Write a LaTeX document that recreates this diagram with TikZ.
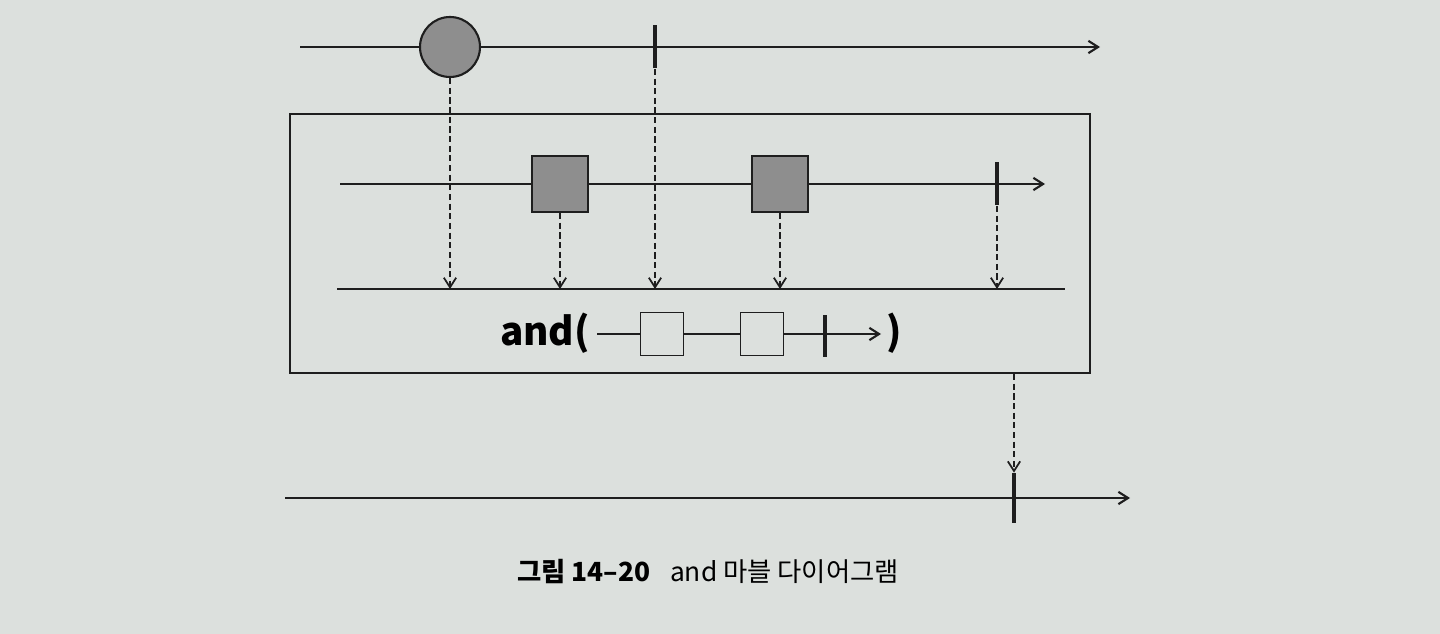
\documentclass[tikz,border=0pt]{standalone}
\usepackage{fontspec}
\setmainfont{Noto Sans CJK KR}
\usetikzlibrary{arrows.meta,positioning}

\definecolor{paper}{RGB}{220,224,221}
\definecolor{ink}{RGB}{30,30,30}
\definecolor{marble}{RGB}{142,142,142}

\tikzset{
  timeline/.style={draw=ink, line width=1.2pt},
  flow/.style={timeline, -{Straight Barb[length=5.5pt,width=7pt]}},
  emitted/.style={draw=ink, line width=1pt, dash pattern=on 3.5pt off 2pt,
    -{Straight Barb[length=5.5pt,width=7pt]}},
  ballmarble/.style={circle, draw=ink, line width=1.2pt, fill=marble,
    minimum size=1.2cm, inner sep=0pt},
  boxmarble/.style={rectangle, draw=ink, line width=1.2pt, fill=marble,
    minimum size=1.12cm, inner sep=0pt},
  emptymarble/.style={rectangle, draw=ink, line width=1.1pt, fill=paper,
    minimum size=0.86cm, inner sep=0pt},
  tickmark/.style={rectangle, fill=ink, inner sep=0pt, minimum width=2.2pt,
    minimum height=#1},
  tickmark/.default=0.86cm
}

\begin{document}
\begin{tikzpicture}[x=0.02cm, y=-0.02cm]
\fill[paper] (0,0) rectangle (1440,634);
\useasboundingbox (0,0) rectangle (1440,634);

% source stream
\node[ballmarble] (ball) at (450,47) {};
\node[tickmark] (srctick) at (655,47) {};
\coordinate (srcstart) at (300,47);
\coordinate (srcend) at (1100,47);
\draw[timeline] (srcstart) -- (ball.west);
\draw[flow] (ball.east) -- (srcend);

% operator box
\node[draw=ink, line width=1.2pt, minimum width=16cm, minimum height=5.18cm,
  inner sep=0pt] (frame) at (690,243.5) {};

% other stream inside
\node[boxmarble] (sqA) at (560,184) {};
\node[boxmarble] (sqB) at (780,184) {};
\node[tickmark] (intick) at (997,184) {};
\coordinate (instart) at (340,184);
\coordinate (inend) at (1045,184);
\draw[timeline] (instart) -- (sqA.west);
\draw[timeline] (sqA.east) -- (sqB.west);
\draw[flow] (sqB.east) -- (inend);

% merge line
\coordinate (mergestart) at (337,289);
\coordinate (mergeend) at (1065,289);
\draw[timeline] (mergestart) -- (mergeend);

\draw[emitted] (ball.south) -- (ball.south |- mergestart);
\draw[emitted] (sqA.south) -- (sqA.south |- mergestart);
\draw[emitted] (srctick.south) -- (srctick.south |- mergestart);
\draw[emitted] (sqB.south) -- (sqB.south |- mergestart);
\draw[emitted] (intick.south) -- (intick.south |- mergestart);

% and( ... )
\node[font=\fontsize{22}{26}\selectfont\bfseries, inner sep=0pt] (andlabel)
  at (545,333) {and(};
\node[emptymarble] (miniA) at (662,334) {};
\node[emptymarble] (miniB) at (762,334) {};
\node[tickmark=0.84cm] (minitick) at (825,336) {};
\coordinate (ministart) at (597,334);
\coordinate (miniend) at (881,334);
\draw[timeline] (ministart) -- (miniA.west);
\draw[timeline] (miniA.east) -- (miniB.west);
\draw[flow] (miniB.east) -- (miniend);
\node[font=\fontsize{22}{26}\selectfont\bfseries, inner sep=0pt] (closeparen)
  at (894,333) {)};

% result stream
\node[tickmark=1cm] (outtick) at (1014,498) {};
\coordinate (outstart) at (285,498);
\coordinate (outend) at (1130,498);
\draw[flow] (outstart) -- (outend);
\draw[emitted] (frame.south -| outtick) -- (outtick.north);

% caption
\node[font=\fontsize{15}{18}\selectfont, inner sep=0pt] (caption) at (708,572)
  {{\bfseries 그림 14–20}\hspace{0.75em}and 마블 다이어그램};
\end{tikzpicture}
\end{document}
